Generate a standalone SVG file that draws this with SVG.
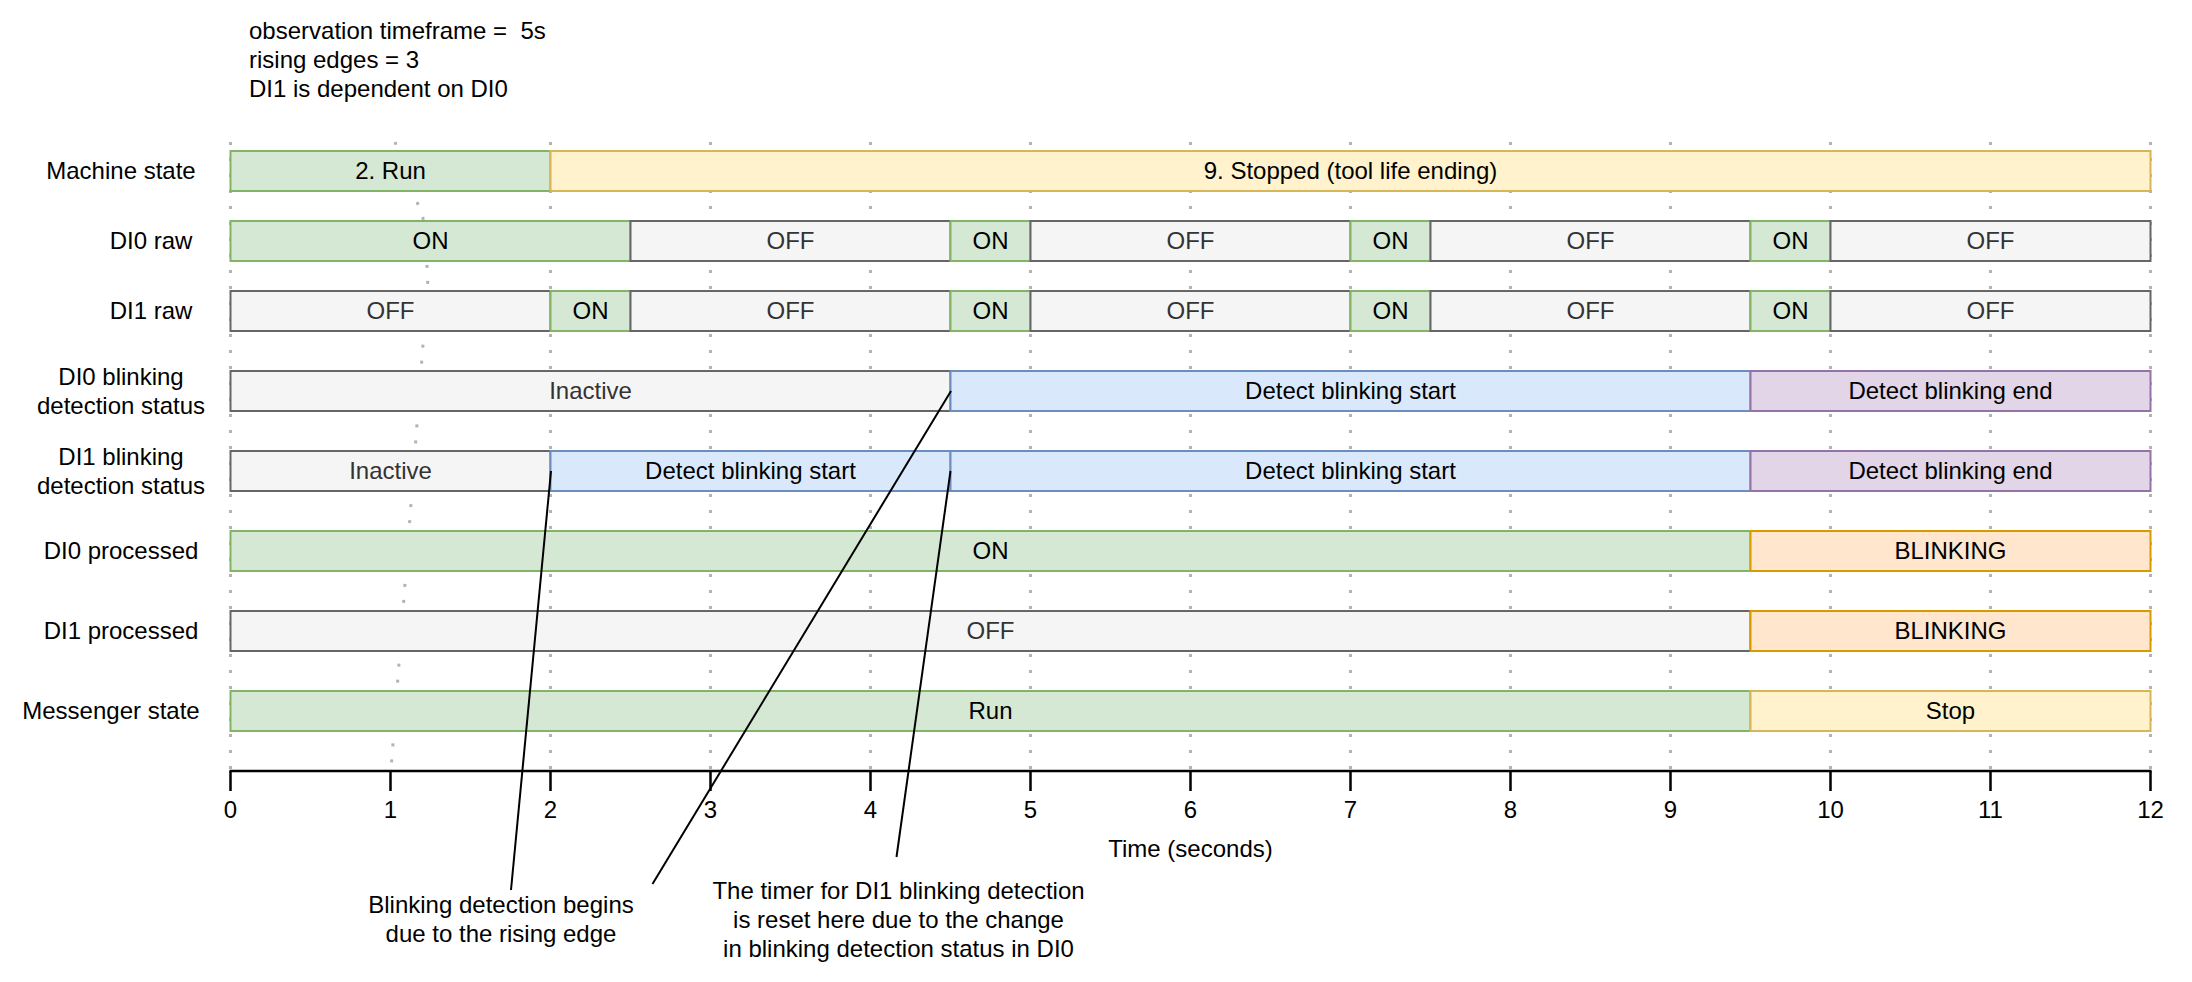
<svg xmlns="http://www.w3.org/2000/svg" width="2192" height="982" viewBox="0 0 2192 982">
<style>
text{font-family:"Liberation Sans",Arial,Helvetica,sans-serif;font-size:24px;fill:#000}
.c{text-anchor:middle}
.g rect{fill:#d5e8d4;stroke:#82b366;stroke-width:2}
.o rect{fill:#f5f5f5;stroke:#666666;stroke-width:2}
.o text{fill:#333333}
.y rect{fill:#fff2cc;stroke:#d6b656;stroke-width:2}
.b rect{fill:#dae8fc;stroke:#6c8ebf;stroke-width:2}
.p rect{fill:#e1d5e7;stroke:#9673a6;stroke-width:2}
.r rect{fill:#ffe6cc;stroke:#d79b00;stroke-width:2}
.grid{fill:none;stroke:#b3b3b3;stroke-width:3;stroke-dasharray:3 13}
.conn{fill:none;stroke:#000;stroke-width:2}
.axis{fill:none;stroke:#000;stroke-width:2.5}
</style>
<rect width="2192" height="982" fill="#fff"/>
<g id="header">
<text x="249" y="39" style="white-space:pre">observation timeframe =  5s</text>
<text x="249" y="68">rising edges = 3</text>
<text x="249" y="97">DI1 is dependent on DI0</text>
</g>
<g id="grid">
<path class="grid" d="M230.5 142V770"/>
<path class="grid" d="M395 142L423 218L428 278L391 770"/>
<path class="grid" d="M550.5 142V770"/>
<path class="grid" d="M710.5 142V770"/>
<path class="grid" d="M870.5 142V770"/>
<path class="grid" d="M1030.5 142V770"/>
<path class="grid" d="M1190.5 142V770"/>
<path class="grid" d="M1350.5 142V770"/>
<path class="grid" d="M1510.5 142V770"/>
<path class="grid" d="M1670.5 142V770"/>
<path class="grid" d="M1830.5 142V770"/>
<path class="grid" d="M1990.5 142V770"/>
<path class="grid" d="M2150.5 142V770"/>
</g>
<g id="row-labels">
<text class="c" x="121" y="179">Machine state</text>
<text class="c" x="151" y="249">DI0 raw</text>
<text class="c" x="151" y="319">DI1 raw</text>
<text class="c" x="121" y="385">DI0 blinking</text>
<text class="c" x="121" y="413.5">detection status</text>
<text class="c" x="121" y="465">DI1 blinking</text>
<text class="c" x="121" y="493.5">detection status</text>
<text class="c" x="121" y="559">DI0 processed</text>
<text class="c" x="121" y="639">DI1 processed</text>
<text class="c" x="111" y="719">Messenger state</text>
</g>
<!-- Machine state -->
<g id="ms-run" class="g"><rect x="230.5" y="151" width="320" height="40"/><text class="c" x="390.5" y="179">2. Run</text></g>
<g id="ms-stopped" class="y"><rect x="550.5" y="151" width="1600" height="40"/><text class="c" x="1350.5" y="179">9. Stopped (tool life ending)</text></g>
<!-- DI0 raw -->
<g id="di0-1" class="g"><rect x="230.5" y="221" width="400" height="40"/><text class="c" x="430.5" y="249">ON</text></g>
<g id="di0-2" class="o"><rect x="630.5" y="221" width="320" height="40"/><text class="c" x="790.5" y="249">OFF</text></g>
<g id="di0-3" class="g"><rect x="950.5" y="221" width="80" height="40"/><text class="c" x="990.5" y="249">ON</text></g>
<g id="di0-4" class="o"><rect x="1030.5" y="221" width="320" height="40"/><text class="c" x="1190.5" y="249">OFF</text></g>
<g id="di0-5" class="g"><rect x="1350.5" y="221" width="80" height="40"/><text class="c" x="1390.5" y="249">ON</text></g>
<g id="di0-6" class="o"><rect x="1430.5" y="221" width="320" height="40"/><text class="c" x="1590.5" y="249">OFF</text></g>
<g id="di0-7" class="g"><rect x="1750.5" y="221" width="80" height="40"/><text class="c" x="1790.5" y="249">ON</text></g>
<g id="di0-8" class="o"><rect x="1830.5" y="221" width="320" height="40"/><text class="c" x="1990.5" y="249">OFF</text></g>
<!-- DI1 raw -->
<g id="di1-1" class="o"><rect x="230.5" y="291" width="320" height="40"/><text class="c" x="390.5" y="319">OFF</text></g>
<g id="di1-2" class="g"><rect x="550.5" y="291" width="80" height="40"/><text class="c" x="590.5" y="319">ON</text></g>
<g id="di1-3" class="o"><rect x="630.5" y="291" width="320" height="40"/><text class="c" x="790.5" y="319">OFF</text></g>
<g id="di1-4" class="g"><rect x="950.5" y="291" width="80" height="40"/><text class="c" x="990.5" y="319">ON</text></g>
<g id="di1-5" class="o"><rect x="1030.5" y="291" width="320" height="40"/><text class="c" x="1190.5" y="319">OFF</text></g>
<g id="di1-6" class="g"><rect x="1350.5" y="291" width="80" height="40"/><text class="c" x="1390.5" y="319">ON</text></g>
<g id="di1-7" class="o"><rect x="1430.5" y="291" width="320" height="40"/><text class="c" x="1590.5" y="319">OFF</text></g>
<g id="di1-8" class="g"><rect x="1750.5" y="291" width="80" height="40"/><text class="c" x="1790.5" y="319">ON</text></g>
<g id="di1-9" class="o"><rect x="1830.5" y="291" width="320" height="40"/><text class="c" x="1990.5" y="319">OFF</text></g>
<!-- DI0 blinking detection status -->
<g id="di0b-1" class="o"><rect x="230.5" y="371" width="720" height="40"/><text class="c" x="590.5" y="399">Inactive</text></g>
<g id="di0b-2" class="b"><rect x="950.5" y="371" width="800" height="40"/><text class="c" x="1350.5" y="399">Detect blinking start</text></g>
<g id="di0b-3" class="p"><rect x="1750.5" y="371" width="400" height="40"/><text class="c" x="1950.5" y="399">Detect blinking end</text></g>
<!-- DI1 blinking detection status -->
<g id="di1b-1" class="o"><rect x="230.5" y="451" width="320" height="40"/><text class="c" x="390.5" y="479">Inactive</text></g>
<g id="di1b-2" class="b"><rect x="550.5" y="451" width="400" height="40"/><text class="c" x="750.5" y="479">Detect blinking start</text></g>
<g id="di1b-3" class="b"><rect x="950.5" y="451" width="800" height="40"/><text class="c" x="1350.5" y="479">Detect blinking start</text></g>
<g id="di1b-4" class="p"><rect x="1750.5" y="451" width="400" height="40"/><text class="c" x="1950.5" y="479">Detect blinking end</text></g>
<!-- DI0 processed -->
<g id="di0p-1" class="g"><rect x="230.5" y="531" width="1520" height="40"/><text class="c" x="990.5" y="559">ON</text></g>
<g id="di0p-2" class="r"><rect x="1750.5" y="531" width="400" height="40"/><text class="c" x="1950.5" y="559">BLINKING</text></g>
<!-- DI1 processed -->
<g id="di1p-1" class="o"><rect x="230.5" y="611" width="1520" height="40"/><text class="c" x="990.5" y="639">OFF</text></g>
<g id="di1p-2" class="r"><rect x="1750.5" y="611" width="400" height="40"/><text class="c" x="1950.5" y="639">BLINKING</text></g>
<!-- Messenger state -->
<g id="msg-1" class="g"><rect x="230.5" y="691" width="1520" height="40"/><text class="c" x="990.5" y="719">Run</text></g>
<g id="msg-2" class="y"><rect x="1750.5" y="691" width="400" height="40"/><text class="c" x="1950.5" y="719">Stop</text></g>
<g id="axis">
<path class="axis" d="M229.5 771H2151.5"/>
<path class="axis" d="M230.5 771V791M390.5 771V791M550.5 771V791M710.5 771V791M870.5 771V791M1030.5 771V791M1190.5 771V791M1350.5 771V791M1510.5 771V791M1670.5 771V791M1830.5 771V791M1990.5 771V791M2150.5 771V791"/>
<text class="c" x="230.5" y="818">0</text>
<text class="c" x="390.5" y="818">1</text>
<text class="c" x="550.5" y="818">2</text>
<text class="c" x="710.5" y="818">3</text>
<text class="c" x="870.5" y="818">4</text>
<text class="c" x="1030.5" y="818">5</text>
<text class="c" x="1190.5" y="818">6</text>
<text class="c" x="1350.5" y="818">7</text>
<text class="c" x="1510.5" y="818">8</text>
<text class="c" x="1670.5" y="818">9</text>
<text class="c" x="1830.5" y="818">10</text>
<text class="c" x="1990.5" y="818">11</text>
<text class="c" x="2150.5" y="818">12</text>
<text class="c" x="1190.5" y="857">Time (seconds)</text>
</g>
<g id="connectors">
<path class="conn" d="M551 471L511 890"/>
<path class="conn" d="M951 391L652.5 884"/>
<path class="conn" d="M950.5 471L896.5 857"/>
</g>
<g id="note-rising-edge">
<text class="c" x="501" y="913">Blinking detection begins</text>
<text class="c" x="501" y="942">due to the rising edge</text>
</g>
<g id="note-timer-reset">
<text class="c" x="898.5" y="899">The timer for DI1 blinking detection</text>
<text class="c" x="898.5" y="928">is reset here due to the change</text>
<text class="c" x="898.5" y="957">in blinking detection status in DI0</text>
</g>
</svg>
